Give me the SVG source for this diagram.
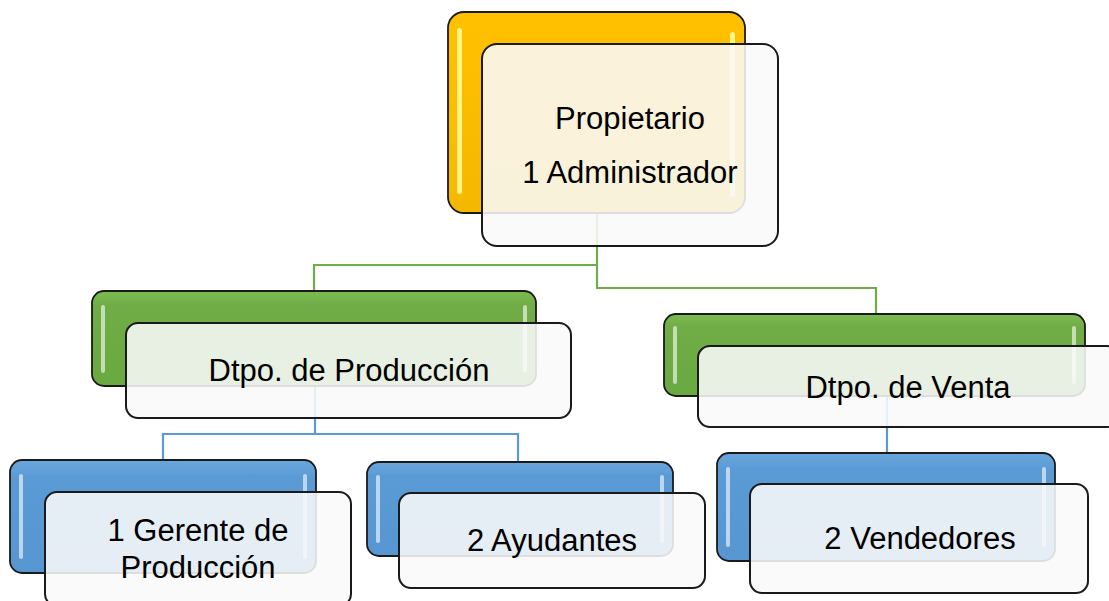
<svg xmlns="http://www.w3.org/2000/svg" width="1109" height="601" viewBox="0 0 1109 601">
<defs>
<linearGradient id="gy" x1="0" y1="0" x2="0" y2="1"><stop offset="0" stop-color="#FFC000"/><stop offset="0.08" stop-color="#FFC000"/><stop offset="1" stop-color="#F5B800"/></linearGradient>
<linearGradient id="gg" x1="0" y1="0" x2="0" y2="1"><stop offset="0" stop-color="#7DBB52"/><stop offset="0.15" stop-color="#70AD47"/><stop offset="1" stop-color="#6AA842"/></linearGradient>
<linearGradient id="gb" x1="0" y1="0" x2="0" y2="1"><stop offset="0" stop-color="#6AA6DC"/><stop offset="0.15" stop-color="#5B9BD5"/><stop offset="1" stop-color="#5796D0"/></linearGradient>
</defs>
<style>
.back{stroke:#1a1a1a;stroke-width:1.8}
.front{fill:#f9f9f9;fill-opacity:0.88;stroke:#1a1a1a;stroke-width:2}
.hl{fill:#ffffff;fill-opacity:0.6}
.hly{fill:#FFFF99;fill-opacity:0.85}
.t{font-family:"Liberation Sans",Arial,sans-serif;font-size:31px;fill:#000;text-anchor:middle}
.cg{fill:none;stroke:#70AD47;stroke-width:2.2}
.cb{fill:none;stroke:#5B9BD5;stroke-width:2.2}
</style>
<rect width="1109" height="601" fill="#ffffff"/>
<g id="connectors">
<path class="cg" d="M597,213 V265 H314 V292"/>
<path class="cg" d="M597,265 V288 H876 V315"/>
<path class="cb" d="M315,386 V434 H163 V461"/>
<path class="cb" d="M315,434 H518 V463"/>
<path class="cb" d="M887,396 V454"/>
</g>
<g id="n-propietario">
<rect class="back" x="448" y="12" width="297" height="201" rx="16" fill="url(#gy)"/>
<rect class="hly" x="457" y="28" width="5" height="166" rx="2.5"/>
<rect class="hly" x="730" y="32" width="5" height="165" rx="2.5"/>
<rect class="front" x="482" y="44" width="296" height="202" rx="15"/>
<text class="t" x="630" y="129">Propietario</text>
<text class="t" x="630" y="183">1 Administrador</text>
</g>
<g id="n-produccion">
<rect class="back" x="92" y="291" width="444" height="95" rx="12" fill="url(#gg)"/>
<rect class="hl" x="101" y="305" width="4" height="68" rx="2"/>
<rect class="hl" x="523" y="305" width="4" height="68" rx="2"/>
<rect class="front" x="126" y="323" width="445" height="95" rx="12"/>
<text class="t" x="349" y="381">Dtpo. de Producción</text>
</g>
<g id="n-venta">
<rect class="back" x="664" y="314" width="421" height="82" rx="12" fill="url(#gg)"/>
<rect class="hl" x="673" y="326" width="4" height="58" rx="2"/>
<rect class="hl" x="1072" y="326" width="4" height="58" rx="2"/>
<rect class="front" x="698" y="346" width="421" height="81" rx="12"/>
<text class="t" x="908" y="398">Dtpo. de Venta</text>
</g>
<g id="n-gerente">
<rect class="back" x="10" y="460" width="306" height="113" rx="12" fill="url(#gb)"/>
<rect class="hl" x="19" y="474" width="4" height="85" rx="2"/>
<rect class="hl" x="303" y="474" width="4" height="85" rx="2"/>
<rect class="front" x="45" y="492" width="306" height="114" rx="12"/>
<text class="t" x="198" y="541">1 Gerente de</text>
<text class="t" x="198" y="578">Producción</text>
</g>
<g id="n-ayudantes">
<rect class="back" x="367" y="462" width="306" height="94" rx="12" fill="url(#gb)"/>
<rect class="hl" x="376" y="475" width="4" height="68" rx="2"/>
<rect class="hl" x="660" y="475" width="4" height="68" rx="2"/>
<rect class="front" x="399" y="493" width="306" height="95" rx="12"/>
<text class="t" x="552" y="551">2 Ayudantes</text>
</g>
<g id="n-vendedores">
<rect class="back" x="717" y="453" width="338" height="108" rx="12" fill="url(#gb)"/>
<rect class="hl" x="726" y="467" width="4" height="80" rx="2"/>
<rect class="hl" x="1042" y="467" width="4" height="80" rx="2"/>
<rect class="front" x="750" y="484" width="338" height="109" rx="12"/>
<text class="t" x="920" y="549">2 Vendedores</text>
</g>
</svg>
